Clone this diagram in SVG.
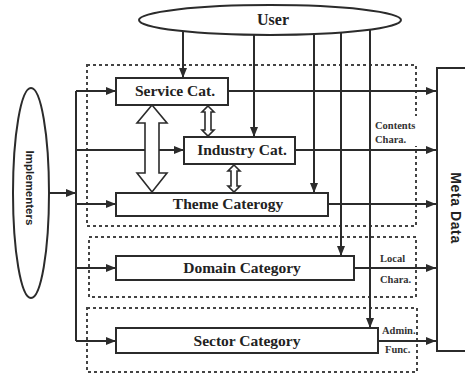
<svg xmlns="http://www.w3.org/2000/svg" width="465" height="374" viewBox="0 0 465 374">
  <defs>
    <marker id="ah" markerWidth="10" markerHeight="8" refX="10" refY="4" orient="auto" markerUnits="userSpaceOnUse">
      <path d="M0,0 L10,4 L0,8 Z" fill="#2b2b2b"/>
    </marker>
    <style>
      .ln { stroke:#2b2b2b; stroke-width:2; fill:none; }
      .ar { stroke:#2b2b2b; stroke-width:2; fill:none; marker-end:url(#ah); }
      .box { stroke:#2b2b2b; stroke-width:2; fill:#fff; }
      .dot { stroke:#444; stroke-width:2; fill:none; stroke-dasharray:3 3; }
      .dbl { stroke:#2b2b2b; stroke-width:1.6; fill:#fff; stroke-linejoin:miter; }
      .lbl { font-family:"Liberation Serif","Times New Roman",serif; font-weight:bold; font-size:15.5px; fill:#222; text-anchor:middle; }
      .sm { font-family:"Liberation Serif","Times New Roman",serif; font-weight:bold; font-size:10.5px; fill:#333; }
      .sans { font-family:"Liberation Sans",Arial,sans-serif; font-weight:bold; fill:#222; text-anchor:middle; }
    </style>
  </defs>
  <rect width="465" height="374" fill="#fff"/>

  <!-- dotted grouping frames -->
  <g id="frames">
    <rect class="dot" x="87" y="65" width="329" height="161"/>
    <rect class="dot" x="89" y="237" width="327" height="60"/>
    <rect class="dot" x="87" y="308" width="330" height="64"/>
  </g>

  <!-- connectors -->
  <g id="connectors">
    <!-- user access lines -->
    <line class="ar" x1="183" y1="25" x2="183" y2="78"/>
    <line class="ar" x1="254" y1="25" x2="254" y2="137"/>
    <line class="ar" x1="314" y1="25" x2="314" y2="193"/>
    <line class="ar" x1="341" y1="25" x2="341" y2="256"/>
    <line class="ar" x1="370" y1="25" x2="370" y2="328"/>
    <!-- implementers bus -->
    <line class="ar" x1="49" y1="193" x2="76" y2="193"/>
    <line class="ln" x1="76" y1="91" x2="76" y2="341"/>
    <line class="ar" x1="76" y1="91" x2="116" y2="91"/>
    <line class="ar" x1="76" y1="150" x2="184" y2="150"/>
    <line class="ar" x1="76" y1="204" x2="116" y2="204"/>
    <line class="ar" x1="76" y1="268" x2="116" y2="268"/>
    <line class="ar" x1="76" y1="341" x2="116" y2="341"/>
    <!-- outputs to meta data -->
    <line class="ar" x1="228" y1="91" x2="436" y2="91"/>
    <line class="ar" x1="295" y1="150" x2="436" y2="150"/>
    <line class="ar" x1="328" y1="204" x2="436" y2="204"/>
    <line class="ar" x1="354" y1="268" x2="436" y2="268"/>
    <line class="ar" x1="378" y1="341" x2="436" y2="341"/>
    <!-- hollow double arrows between categories -->
    <path class="dbl" d="M152,105 L167,123 L159,123 L159,173 L167,173 L152,192 L137,173 L145,173 L145,123 L137,123 Z"/>
    <path class="dbl" d="M208,106 L214,112 L211,112 L211,130 L214,130 L208,136 L202,130 L205,130 L205,112 L202,112 Z"/>
    <path class="dbl" d="M234,165 L240,171 L237,171 L237,186 L240,186 L234,192 L228,186 L231,186 L231,171 L228,171 Z"/>
  </g>

  <g id="user">
    <ellipse class="box" cx="270" cy="20" rx="131" ry="15"/>
    <text class="lbl" x="273" y="25" style="font-size:16px">User</text>
  </g>

  <g id="implementers">
    <ellipse class="box" cx="31" cy="193" rx="18" ry="105"/>
    <text class="sans" transform="translate(26,188) rotate(90)" style="font-size:11.5px">Implementers</text>
  </g>

  <g id="service">
    <rect class="box" x="116" y="78" width="112" height="27"/>
    <text class="lbl" x="175" y="96">Service Cat.</text>
  </g>

  <g id="industry">
    <rect class="box" x="184" y="137" width="111" height="27"/>
    <text class="lbl" x="242" y="155">Industry Cat.</text>
  </g>

  <g id="theme">
    <rect class="box" x="116" y="193" width="212" height="23"/>
    <text class="lbl" x="228" y="209">Theme Caterogy</text>
  </g>

  <g id="domain">
    <rect class="box" x="116" y="256" width="238" height="24"/>
    <text class="lbl" x="242" y="273">Domain Category</text>
  </g>

  <g id="sector">
    <rect class="box" x="116" y="328" width="262" height="25"/>
    <text class="lbl" x="247" y="346">Sector Category</text>
  </g>

  <g id="metadata">
    <rect class="box" x="437" y="68" width="40" height="283"/>
    <text class="sans" transform="translate(451,208) rotate(90)" style="font-size:14px;letter-spacing:0.6px">Meta Data</text>
  </g>

  <!-- edge notes -->
  <g id="notes">
    <rect x="374" y="116" width="50" height="30" fill="#fff"/>
    <text class="sm" x="375" y="129">Contents</text>
    <text class="sm" x="375" y="143">Chara.</text>
    <text class="sm" x="380" y="262">Local</text>
    <text class="sm" x="380" y="283">Chara.</text>
    <text class="sm" x="382" y="334">Admin.</text>
    <text class="sm" x="385" y="353">Func.</text>
  </g>
</svg>
